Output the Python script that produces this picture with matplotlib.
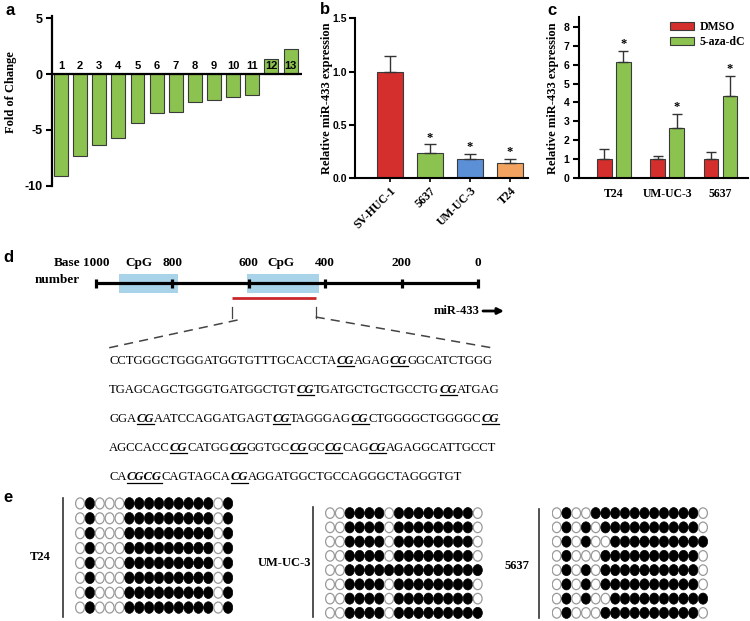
import re
import numpy as np
import matplotlib
matplotlib.use('Agg')
import matplotlib.pyplot as plt
from matplotlib.patches import Rectangle, Ellipse

plt.rcParams['axes.unicode_minus'] = False

# ---------------- data ----------------
a_labels = [str(i) for i in range(1, 14)]
a_values = [-9.1, -7.35, -6.35, -5.7, -4.4, -3.5, -3.35, -2.5, -2.3, -2.05, -1.85, 1.35, 2.25]

b_cells = ['SV-HUC-1', '5637', 'UM-UC-3', 'T24']
b_values = [1.0, 0.235, 0.175, 0.145]
b_errors = [0.15, 0.08, 0.055, 0.035]
b_sig = ['', '*', '*', '*']

c_cells = ['T24', 'UM-UC-3', '5637']
c_series = ['DMSO', '5-aza-dC']
c_dmso = [1.0, 1.0, 1.0]
c_dmso_err = [0.52, 0.17, 0.37]
c_aza = [6.12, 2.67, 4.32]
c_aza_err = [0.6, 0.7, 1.07]
c_sig = ['*', '*', '*']

d_ticks = [1000, 800, 600, 400, 200, 0]
d_cpg = [(940, 785), (605, 415)]
d_cpg_label_pos = [888, 516]
d_amplicon = (645, 425)
seq_lines = [
    'CCTGGGCTGGGATGGTGTTTGCACCTA[CG]AGAG[CG]GGCATCTGGG',
    'TGAGCAGCTGGGTGATGGCTGT[CG]TGATGCTGCTGCCTG[CG]ATGAG',
    'GGA[CG]AATCCAGGATGAGT[CG]TAGGGAG[CG]CTGGGGCTGGGGC[CG]',
    'AGCCACC[CG]CATGG[CG]GGTGC[CG]GC[CG]CAG[CG]AGAGGCATTGCCT',
    'CA[CGCG]CAGTAGCA[CG]AGGATGGCTGCCAGGGCTAGGGTGT',
]

e_names = ['T24', 'UM-UC-3', '5637']
e_t24 = ['0100011111111101'] * 8
e_umuc3 = ['0011110111111110', '0011110111111110', '0011110111111110',
           '0011110111111110', '0011111111111111', '0011110111111110',
           '0011110111111110', '0011110111111111']
e_5637 = ['0100111111111110', '0101011111111110', '0101001111111111',
          '0100011111111110', '0101011111111110', '0101011111111110',
          '0101001111111111', '0100011111111110']

# ---------------- style ----------------
W, H = 750, 621
SERIF = 'Liberation Serif'
SANS = 'Liberation Sans'
RED = '#d42f2c'
GREEN = '#8cc350'
BLUE = '#5b8fd6'
ORANGE = '#f2a35f'
EDGE = '#3a3a3a'
b_colors = [RED, GREEN, BLUE, ORANGE]

fig = plt.figure(figsize=(7.5, 6.21), dpi=100)


def px_axes(l, t, r, b, **kw):
    return fig.add_axes([l / W, 1 - b / H, (r - l) / W, (b - t) / H], **kw)


ov = px_axes(0, 0, W, H)
ov.set_xlim(0, W)
ov.set_ylim(H, 0)
ov.axis('off')


def style_ticklabels(ax, axis, family, size):
    labels = ax.get_yticklabels() if axis == 'y' else ax.get_xticklabels()
    for lab in labels:
        lab.set_fontfamily(family)
        lab.set_fontweight('bold')
        lab.set_fontsize(size)


# ---------------- panel a ----------------
axA = px_axes(52, 16.1, 302, 185.7)
xa = np.arange(1, len(a_values) + 1)
axA.bar(xa, a_values, width=0.73, color=GREEN, edgecolor=EDGE, linewidth=0.8, zorder=2)
axA.set_xlim(0.53, 13.6)
axA.set_ylim(-10, 5.2)
axA.axhline(0, color='black', lw=1.6, zorder=3)
for s in ['top', 'right', 'bottom']:
    axA.spines[s].set_visible(False)
axA.spines['left'].set_linewidth(1.6)
axA.set_xticks([])
axA.set_yticks([5, 0, -5, -10])
axA.tick_params(axis='y', direction='out', length=4, width=1.5, pad=3)
style_ticklabels(axA, 'y', SANS, 9)
for xi, lab in zip(xa, a_labels):
    axA.text(xi, 0.3, lab, ha='center', va='bottom', family=SANS, weight='bold', fontsize=8, zorder=4)
ov.text(11, 92, 'Fold of Change', rotation=90, ha='center', va='center',
        family=SERIF, weight='bold', fontsize=9)

# ---------------- panel b ----------------
axB = px_axes(355, 18.3, 528, 178)
xb = np.arange(len(b_values))
axB.bar(xb, b_values, width=0.66, color=b_colors, edgecolor=EDGE, linewidth=0.8, zorder=2)
axB.errorbar(xb, b_values, yerr=[np.zeros(len(b_values)), b_errors], fmt='none',
             ecolor='#333333', elinewidth=1.0, capsize=4, capthick=1.0, zorder=3)
for xi, v, e, s in zip(xb, b_values, b_errors, b_sig):
    if s:
        axB.text(xi, v + e + 0.005, s, ha='center', va='bottom', family=SERIF,
                 weight='bold', fontsize=9)
axB.set_xlim(-0.875, 3.45)
axB.set_ylim(0, 1.5)
for s in ['top', 'right']:
    axB.spines[s].set_visible(False)
for s in ['left', 'bottom']:
    axB.spines[s].set_linewidth(1.5)
axB.set_yticks([0, 0.5, 1.0, 1.5])
axB.set_yticklabels(['0.0', '0.5', '1.0', '1.5'])
axB.set_xticks(xb)
axB.set_xticklabels(b_cells, rotation=45, ha='right', rotation_mode='anchor')
axB.tick_params(axis='y', direction='out', length=4, width=1.5, pad=2)
axB.tick_params(axis='x', direction='out', length=3, width=1.2, pad=2)
style_ticklabels(axB, 'y', SANS, 7.5)
style_ticklabels(axB, 'x', SERIF, 8.5)
ov.text(327, 98, 'Relative miR-433 expression', rotation=90, ha='center', va='center',
        family=SERIF, weight='bold', fontsize=9)

# ---------------- panel c ----------------
axC = px_axes(579, 17.2, 748, 178.3)
xc = np.arange(len(c_cells))
off = 0.178
bw = 0.272
bars1 = axC.bar(xc - off, c_dmso, width=bw, color=RED, edgecolor=EDGE, linewidth=0.8,
                zorder=2, label=c_series[0])
bars2 = axC.bar(xc + off, c_aza, width=bw, color=GREEN, edgecolor=EDGE, linewidth=0.8,
                zorder=2, label=c_series[1])
axC.errorbar(xc - off, c_dmso, yerr=[np.zeros(3), c_dmso_err], fmt='none', ecolor='#333333',
             elinewidth=1.0, capsize=3.5, capthick=1.0, zorder=3)
axC.errorbar(xc + off, c_aza, yerr=[np.zeros(3), c_aza_err], fmt='none', ecolor='#333333',
             elinewidth=1.0, capsize=3.5, capthick=1.0, zorder=3)
for xi, v, e, s in zip(xc, c_aza, c_aza_err, c_sig):
    axC.text(xi + off, v + e + 0.05, s, ha='center', va='bottom', family=SERIF,
             weight='bold', fontsize=9)
axC.set_xlim(-0.657, 2.52)
axC.set_ylim(0, 8.5)
for s in ['top', 'right']:
    axC.spines[s].set_visible(False)
for s in ['left', 'bottom']:
    axC.spines[s].set_linewidth(1.5)
axC.set_yticks(range(0, 9))
axC.set_xticks(xc)
axC.set_xticklabels(c_cells)
axC.tick_params(axis='y', direction='out', length=4, width=1.5, pad=3)
axC.tick_params(axis='x', length=0, pad=7)
style_ticklabels(axC, 'y', SANS, 7.5)
style_ticklabels(axC, 'x', SERIF, 8.5)
leg = axC.legend(handles=[bars1, bars2], loc='upper left', bbox_to_anchor=(670 / W, 1 - 21 / H),
                 bbox_transform=fig.transFigure, frameon=False, borderaxespad=0, borderpad=0,
                 handlelength=2.0, handleheight=0.75, handletextpad=0.5, labelspacing=0.25,
                 prop={'family': SERIF, 'weight': 'bold', 'size': 8.5})
ov.text(553, 98, 'Relative miR-433 expression', rotation=90, ha='center', va='center',
        family=SERIF, weight='bold', fontsize=9)

# ---------------- panel d: map ----------------
scale = 0.382  # px per base
x1000 = 96.0
axD = px_axes(0, 250, W, 322)
axD.set_xlim(1000 + x1000 / scale, 1000 - (W - x1000) / scale)
axD.set_ylim(322, 250)
axD.axis('off')
line_y = 283
for (b0, b1) in d_cpg:
    axD.add_patch(Rectangle((b1, 274.3), b0 - b1, 19, facecolor='#a9d3e8', edgecolor='none', zorder=1))
axD.plot([d_ticks[0], d_ticks[-1]], [line_y, line_y], color='black', lw=2.3, zorder=2,
         solid_capstyle='butt')
for t in d_ticks:
    axD.plot([t, t], [279, 287.5], color='black', lw=2.3, zorder=3, solid_capstyle='butt')
    axD.text(t, 263, str(t), ha='center', va='center', family=SERIF, weight='bold', fontsize=9.5)
for p in d_cpg_label_pos:
    axD.text(p, 263, 'CpG', ha='center', va='center', family=SERIF, weight='bold', fontsize=9.5)
axD.plot([d_amplicon[0], d_amplicon[1]], [298, 298], color='#c8282c', lw=2.0, zorder=2,
         solid_capstyle='butt')
ov.text(80, 263, 'Base', ha='right', va='center', family=SERIF, weight='bold', fontsize=9.5)
ov.text(80, 280, 'number', ha='right', va='center', family=SERIF, weight='bold', fontsize=9.5)
ov.text(480, 311, 'miR-433', ha='right', va='center', family=SERIF, weight='bold', fontsize=9)
ov.annotate('', xy=(504, 311), xytext=(483, 311),
            arrowprops=dict(arrowstyle='-|>', lw=2.0, color='black', mutation_scale=9,
                            shrinkA=0, shrinkB=0))
xa0 = x1000 + (1000 - d_amplicon[0]) * scale
xa1 = x1000 + (1000 - d_amplicon[1]) * scale
ov.plot([xa0, xa0], [307, 318], color='#444444', lw=0.9)
ov.plot([xa1, xa1], [307, 318], color='#444444', lw=0.9)
ov.plot([xa0 + 6, 108], [320, 348], color='#444444', lw=1.1, ls=(0, (6, 4)))
ov.plot([xa1, 493], [317, 348], color='#444444', lw=1.1, ls=(0, (6, 4)))

# ---------------- sequence ----------------
fig.canvas.draw()
rend = fig.canvas.get_renderer()


def segments(line):
    out = []
    for part in re.split(r'(\[[^\]]+\])', line):
        if not part:
            continue
        if part.startswith('['):
            out.append((part[1:-1], True))
        else:
            out.append((part, False))
    return out


seq_x0 = 109
seq_y0 = 359
seq_dy = 29.2
for i, line in enumerate(seq_lines):
    x = seq_x0
    yb = seq_y0 + i * seq_dy + 4.5
    for s, cg in segments(line):
        t = ov.text(x, yb, s, ha='left', va='baseline', family=SERIF, fontsize=9.1,
                    weight='bold' if cg else 'normal', style='italic' if cg else 'normal')
        w = t.get_window_extent(renderer=rend).width
        if cg:
            ov.plot([x + 0.5, x + w], [yb + 2.2, yb + 2.2], color='black', lw=0.9)
        x += w

# ---------------- panel e ----------------
grids = [
    (e_t24, 75.1, 496, 233.0, 615, 63, 498, 617, (40, 557)),
    (e_umuc3, 325.1, 506, 482.6, 620, 313, 507, 617, (284, 563)),
    (e_5637, 551.8, 506, 707.9, 620, 539, 509, 618, (517, 566)),
]
for name, (pat, l, t, r, b, vx, vy0, vy1, lab) in zip(e_names, grids):
    ax = px_axes(l, t, r, b)
    ncol = len(pat[0])
    nrow = len(pat)
    ax.set_xlim(-0.5, ncol - 0.5)
    ax.set_ylim(nrow - 0.5, -0.5)
    ax.axis('off')
    for ri, row in enumerate(pat):
        for ci, ch in enumerate(row):
            if ch == '1':
                ax.add_patch(Ellipse((ci, ri), 0.95, 0.78, facecolor='black', edgecolor='black', lw=0.5))
            else:
                ax.add_patch(Ellipse((ci, ri), 0.9, 0.74, facecolor='white', edgecolor='#9a9a9a', lw=0.9))
    ov.plot([vx, vx], [vy0, vy1], color='#333333', lw=1.2)
    ov.text(lab[0], lab[1], name, ha='center', va='center', family=SERIF, weight='bold', fontsize=9)

# ---------------- panel letters ----------------
for letter, (lx, ly) in zip('abcde', [(10, 15), (325, 14), (552, 15), (8, 262), (8, 502)]):
    ov.text(lx, ly, letter, ha='center', va='baseline', family=SANS, weight='bold', fontsize=12)

fig.savefig('out.png', dpi=100)
